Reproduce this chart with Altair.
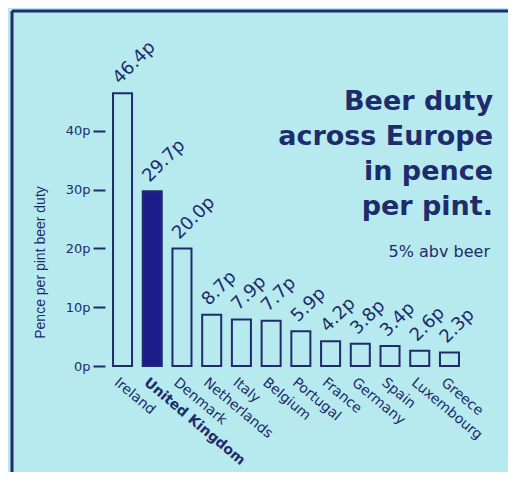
import altair as alt
import pandas as pd

countries = ["Ireland", "United Kingdom", "Denmark", "Netherlands", "Italy", "Belgium",
             "Portugal", "France", "Germany", "Spain", "Luxembourg", "Greece"]
duty = [46.4, 29.7, 20.0, 8.7, 7.9, 7.7, 5.9, 4.2, 3.8, 3.4, 2.6, 2.3]
labels = ["46.4p", "29.7p", "20.0p", "8.7p", "7.9p", "7.7p", "5.9p", "4.2p", "3.8p", "3.4p", "2.6p", "2.3p"]
highlight = ["no", "yes", "no", "no", "no", "no", "no", "no", "no", "no", "no", "no"]
y_ticks = [0, 10, 20, 30, 40]
title_lines = ["Beer duty", "across Europe", "in pence", "per pint."]
subtitle = "5% abv beer"
y_title = "Pence per pint beer duty"

BG = "#b6eaee"
NAVY = "#1f2c6b"
UKBLUE = "#1b1c8a"
FONT = "DejaVu Sans"

df = pd.DataFrame({"country": countries, "duty": duty, "label": labels, "hl": highlight})

x = alt.X("country:N", sort=countries,
          scale=alt.Scale(paddingInner=0.36, paddingOuter=0.27),
          axis=alt.Axis(title=None, labelAngle=40, labelAlign="left", labelBaseline="top",
                        labelPadding=9, labelOffset=-2, ticks=False, domain=False,
                        labelFontSize=14, labelColor=NAVY, labelFont=FONT,
                        labelFontWeight={"condition": {"test": "datum.value === 'United Kingdom'", "value": "bold"}, "value": "normal"},
                        labelOverlap=False, labelLimit=0))
y = alt.Y("duty:Q", scale=alt.Scale(domain=[0, 50], nice=False),
          axis=alt.Axis(values=y_ticks, labelExpr="datum.value + 'p'", tickSize=12, tickWidth=2,
                        tickColor=NAVY, domain=False, grid=False, labelPadding=3,
                        labelFontSize=13, labelColor=NAVY, labelFont=FONT,
                        title=y_title, titleFontSize=14, titleFontWeight="normal", titleColor=NAVY,
                        titleFont="Liberation Sans", titleX=-58, titleY=190))

base = alt.Chart(df)

bars = base.mark_bar(stroke=NAVY, strokeWidth=2).encode(
    x=x, y=y,
    fill=alt.Fill("hl:N", scale=alt.Scale(domain=["no", "yes"], range=[BG, UKBLUE]), legend=None),
)

vals = base.mark_text(angle=315, align="left", baseline="alphabetic", dx=4, dy=-8,
                      fontSize=18, color=NAVY, font=FONT).encode(
    x=alt.X("country:N", sort=countries), y=alt.Y("duty:Q"), text="label:N")

one = alt.Data(values=[{"a": 1}])

title = alt.Chart(one).mark_text(align="right", baseline="alphabetic", fontSize=27, fontWeight="bold",
                                 lineHeight=35, color=NAVY, font=FONT).encode(
    x=alt.value(388), y=alt.value(38), text=alt.value(title_lines))

sub = alt.Chart(one).mark_text(align="right", baseline="alphabetic", fontSize=16,
                               color=NAVY, font=FONT).encode(
    x=alt.value(385), y=alt.value(185), text=alt.value(subtitle))

frame_left = alt.Chart(one).mark_rule(color=NAVY, strokeWidth=3).encode(
    x=alt.value(-93), y=alt.value(-61), y2=alt.value(420))
frame_top = alt.Chart(one).mark_rule(color=NAVY, strokeWidth=3).encode(
    x=alt.value(-93), x2=alt.value(420), y=alt.value(-61))

chart = alt.layer(frame_left, frame_top, bars, vals, title, sub).properties(
    width=362, height=294,
    autosize=alt.AutoSizeParams(type="none"),
    padding={"left": 97, "top": 64, "right": 41, "bottom": 106},
    background=BG,
).configure_view(stroke=None)

chart.save("out.html", embed_options={"renderer": "svg", "actions": False})
